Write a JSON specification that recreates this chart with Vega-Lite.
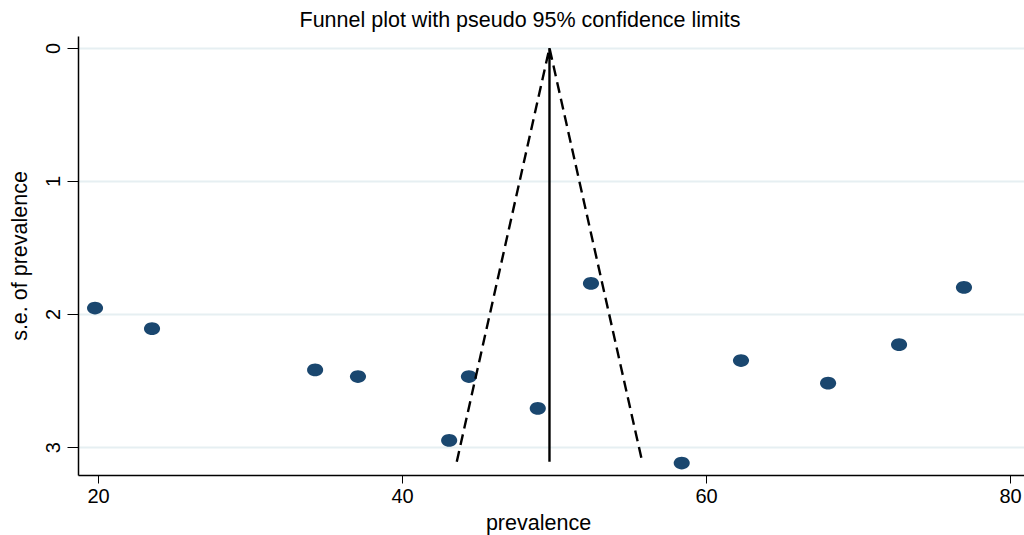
{
  "$schema": "https://vega.github.io/schema/vega-lite/v6.json",
  "width": 946,
  "height": 439,
  "autosize": {"type": "none"},
  "padding": {"left": 78, "top": 36, "right": 0, "bottom": 60},
  "background": "white",
  "title": {
    "text": "Funnel plot with pseudo 95% confidence limits",
    "font": "Liberation Sans",
    "fontSize": 21.5,
    "fontWeight": "normal",
    "color": "black",
    "anchor": "middle",
    "offset": 5,
    "dx": -31
  },
  "config": {
    "view": {"stroke": null},
    "font": "Liberation Sans"
  },
  "datasets": {
    "studies": [
      {"prevalence": 19.8, "se": 1.955},
      {"prevalence": 23.55, "se": 2.11},
      {"prevalence": 34.28, "se": 2.42},
      {"prevalence": 37.1, "se": 2.47},
      {"prevalence": 43.1, "se": 2.95},
      {"prevalence": 44.4, "se": 2.47},
      {"prevalence": 48.93, "se": 2.71},
      {"prevalence": 52.43, "se": 1.77},
      {"prevalence": 58.4, "se": 3.12},
      {"prevalence": 62.3, "se": 2.35},
      {"prevalence": 68.03, "se": 2.52},
      {"prevalence": 72.7, "se": 2.23},
      {"prevalence": 76.97, "se": 1.8}
    ],
    "funnel": [
      {"x": 43.6, "se": 3.11, "order": 1},
      {"x": 49.7, "se": 0, "order": 2},
      {"x": 55.8, "se": 3.11, "order": 3}
    ],
    "pooled": [
      {"x": 49.7, "se0": 0, "se1": 3.11, "tip": 0.06}
    ]
  },
  "layer": [
    {
      "data": {"name": "studies"},
      "mark": {"type": "point", "filled": true, "shape": "M-1.2,0A1.2,0.95 0 1,0 1.2,0A1.2,0.95 0 1,0 -1.2,0Z", "size": 180, "color": "#1a476f", "opacity": 1},
      "encoding": {
        "x": {
          "field": "prevalence", "type": "quantitative",
          "scale": {"domain": [18.68, 80.92], "nice": false, "zero": false},
          "axis": {
            "values": [20, 40, 60, 80],
            "format": "d",
            "title": "prevalence",
            "titleFont": "Liberation Sans",
            "titleFontSize": 21.5,
            "titleFontWeight": "normal",
            "titleColor": "black",
            "titlePadding": 6,
            "titleX": 460,
            "labelFont": "Liberation Sans",
            "labelFontSize": 20,
            "labelColor": "black",
            "labelPadding": 3,
            "tickSize": 8,
            "tickColor": "black",
            "domainColor": "black",
            "domainWidth": 1.5,
            "grid": false
          }
        },
        "y": {
          "field": "se", "type": "quantitative",
          "scale": {"domain": [-0.09, 3.21], "reverse": true, "nice": false, "zero": false},
          "axis": {
            "values": [0, 1, 2, 3],
            "format": "d",
            "title": "s.e. of prevalence",
            "titleFont": "Liberation Sans",
            "titleFontSize": 21.5,
            "titleFontWeight": "normal",
            "titleColor": "black",
            "titlePadding": 12,
            "labelFont": "Liberation Sans",
            "labelFontSize": 20,
            "labelColor": "black",
            "labelAngle": -90,
            "labelAlign": "center",
            "labelBaseline": "bottom",
            "labelPadding": 4,
            "tickSize": 11,
            "tickColor": "black",
            "domainColor": "black",
            "domainWidth": 1.5,
            "grid": true,
            "gridColor": "#e6eff2",
            "gridWidth": 2
          }
        }
      }
    },
    {
      "data": {"name": "funnel"},
      "mark": {"type": "line", "color": "black", "strokeWidth": 2.4, "strokeDash": [11, 6]},
      "encoding": {
        "x": {"field": "x", "type": "quantitative"},
        "y": {"field": "se", "type": "quantitative"},
        "order": {"field": "order", "type": "quantitative"}
      }
    },
    {
      "data": {"name": "pooled"},
      "mark": {"type": "rule", "color": "black", "strokeWidth": 2.4},
      "encoding": {
        "x": {"field": "x", "type": "quantitative"},
        "y": {"field": "se0", "type": "quantitative"},
        "y2": {"field": "se1"}
      }
    },
    {
      "data": {"name": "pooled"},
      "mark": {"type": "point", "shape": "triangle-up", "filled": true, "color": "black", "size": 45, "opacity": 1},
      "encoding": {
        "x": {"field": "x", "type": "quantitative"},
        "y": {"field": "tip", "type": "quantitative"}
      }
    }
  ]
}
